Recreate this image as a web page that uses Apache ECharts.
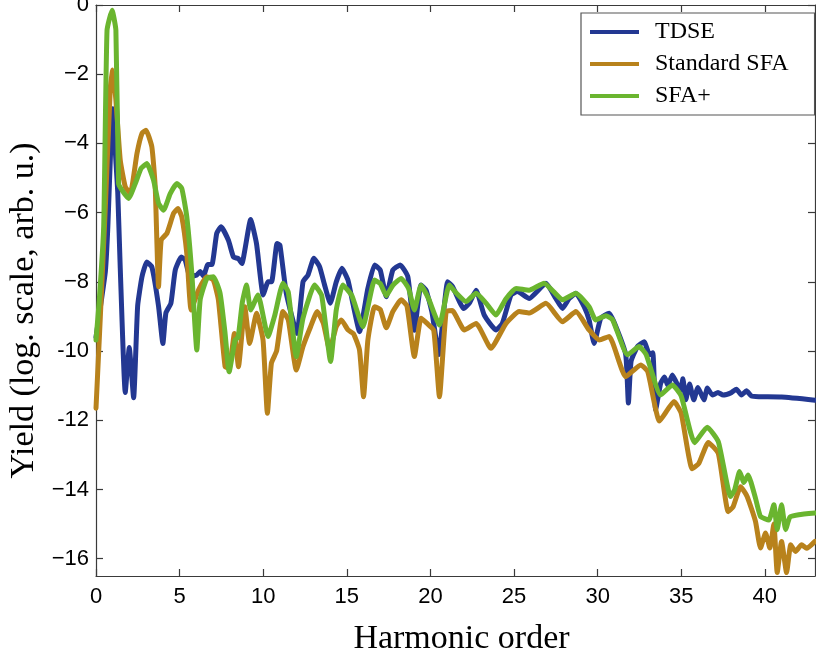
<!DOCTYPE html>
<html>
<head>
<meta charset="utf-8">
<script src="https://cdn.jsdelivr.net/npm/echarts@6/dist/echarts.min.js"></script>
<style>
  html, body { margin: 0; padding: 0; background: #fff; }
  #main { width: 816px; height: 658px; }
</style>
</head>
<body>
<div id="main"></div>
<script>
// harmonic order / log yield
const seriesNames = ['TDSE', 'Standard SFA', 'SFA+']
const xTicks = [0, 5, 10, 15, 20, 25, 30, 35, 40]
const yTicks = [-16, -14, -12, -10, -8, -6, -4, -2, 0]

const tdse = [
  [0, -9.6], [0.3, -8.6], [0.56, -7.7], [0.7, -6.5], [1.0, -3.0], [1.2, -4.6], [1.3, -5.4], [1.45, -7.6],
  [1.75, -11.2], [1.99, -9.9], [2.25, -11.35], [2.49, -8.7], [2.75, -7.85], [3.04, -7.43], [3.34, -7.57],
  [3.74, -8.7], [4.0, -9.78], [4.18, -8.9], [4.48, -8.62], [4.74, -7.66], [5.1, -7.28], [5.33, -7.37],
  [5.63, -7.85], [6.03, -7.8], [6.23, -7.7], [6.43, -7.83], [6.69, -7.5], [6.93, -7.5], [7.22, -6.6],
  [7.48, -6.41], [7.92, -6.8], [8.22, -7.28], [8.52, -7.33], [8.72, -7.47], [9.25, -6.2], [9.6, -6.9],
  [10.0, -8.38], [10.29, -8.0], [10.5, -8.0], [10.83, -6.89], [11.0, -6.94], [11.38, -8.33], [12.02, -9.49],
  [12.38, -8.0], [12.68, -7.8], [13.03, -7.32], [13.37, -7.56], [13.67, -8.09], [14.01, -8.62], [14.37, -8.0],
  [14.71, -7.61], [15.07, -7.95], [15.36, -8.62], [15.76, -9.44], [16.26, -8.19], [16.66, -7.51], [17.0, -7.66],
  [17.36, -8.43], [17.75, -7.66], [18.19, -7.51], [18.65, -7.85], [19.04, -9.4], [19.44, -8.09], [19.74, -8.24],
  [20.1, -8.9], [20.5, -10.1], [21.03, -8.0], [21.33, -8.14], [21.99, -8.77], [22.35, -8.6], [22.73, -8.24],
  [23.22, -8.96], [23.92, -9.39], [24.3, -9.2], [24.82, -8.38], [25.2, -8.28], [25.91, -8.48], [26.91, -8.04],
  [27.5, -8.48], [27.9, -8.77], [28.3, -8.48], [28.7, -8.33], [29.2, -8.72], [29.49, -9.1], [29.79, -9.78],
  [30.19, -9.05], [30.69, -8.91], [31.1, -9.3], [31.68, -10.1], [31.84, -11.5], [32.0, -10.3], [32.38, -9.87],
  [32.78, -9.73], [33.1, -10.1], [33.3, -10.05], [33.47, -11.7], [33.77, -10.93], [34.0, -10.75], [34.2, -11.0],
  [34.47, -10.69], [34.7, -10.9], [34.97, -11.12], [35.1, -10.8], [35.27, -11.41], [35.5, -10.95], [35.75, -11.41],
  [36.0, -11.05], [36.36, -11.41], [36.56, -11.07], [36.86, -11.27], [37.2, -11.2], [37.5, -11.27], [38.0, -11.2],
  [38.3, -11.1], [38.6, -11.27], [38.9, -11.15], [39.2, -11.3], [39.64, -11.32], [41.0, -11.33], [43, -11.42]
]

const standardSfa = [
  [0, -11.65], [0.26, -9.0], [0.56, -5.83], [0.86, -2.37], [1.0, -1.88], [1.19, -2.75], [1.45, -4.48],
  [1.75, -5.25], [2.05, -5.45], [2.45, -4.29], [2.75, -3.71], [2.99, -3.62], [3.34, -4.1], [3.54, -5.25],
  [3.74, -8.14], [3.9, -6.79], [4.24, -6.6], [4.64, -6.02], [4.9, -5.88], [5.13, -6.12], [5.43, -7.18],
  [5.69, -8.81], [6.13, -8.24], [6.63, -7.85], [7.02, -7.95], [7.32, -8.52], [7.72, -10.45], [7.95, -10.5],
  [8.28, -9.49], [8.52, -10.45], [8.9, -8.72], [9.19, -9.78], [9.6, -8.91], [9.99, -9.68], [10.25, -11.8],
  [10.49, -10.35], [10.8, -10.0], [11.18, -8.86], [11.5, -9.1], [11.98, -10.55], [12.38, -9.87], [12.84, -9.29],
  [13.23, -8.86], [13.6, -9.2], [13.97, -9.97], [14.37, -9.29], [14.67, -9.1], [15.07, -9.39], [15.4, -9.5],
  [15.76, -9.97], [16.0, -11.32], [16.26, -9.68], [16.66, -8.72], [17.0, -8.8], [17.36, -9.33], [17.75, -8.86],
  [18.25, -8.52], [18.6, -8.7], [19.04, -10.16], [19.44, -9.05], [19.8, -9.2], [20.2, -9.4], [20.54, -11.32],
  [20.94, -8.86], [21.3, -8.83], [22.03, -9.39], [22.73, -9.2], [23.62, -9.92], [24.52, -9.2], [25.31, -8.86],
  [25.91, -8.9], [26.91, -8.62], [27.9, -9.15], [28.7, -8.86], [29.49, -9.39], [30.1, -9.68], [30.69, -9.58],
  [31.68, -10.74], [32.58, -10.4], [33.0, -10.6], [33.7, -12.02], [34.57, -11.46], [35.0, -11.8], [35.65, -13.4],
  [36.05, -13.25], [36.62, -12.64], [37.22, -12.96], [37.81, -14.64], [38.1, -14.5], [38.55, -13.92],
  [38.94, -14.2], [39.44, -14.92], [39.74, -15.69], [40.04, -15.26], [40.3, -15.69], [40.54, -15.0],
  [40.74, -16.4], [41.0, -15.5], [41.3, -16.4], [41.55, -15.6], [41.83, -15.79], [42.2, -15.6], [42.5, -15.7],
  [43, -15.5]
]

const sfaPlus = [
  [0, -9.68], [0.2, -8.5], [0.46, -6.4], [0.66, -0.73], [0.96, -0.15], [1.19, -0.73], [1.35, -5.16],
  [1.55, -5.35], [1.95, -5.59], [2.35, -5.16], [2.7, -4.72], [3.04, -4.58], [3.44, -5.06], [3.74, -5.73],
  [4.04, -5.93], [4.44, -5.45], [4.84, -5.16], [5.13, -5.3], [5.43, -6.12], [5.73, -7.75], [6.03, -9.97],
  [6.23, -8.52], [6.63, -7.9], [7.02, -7.85], [7.42, -8.33], [7.72, -9.49], [7.96, -10.6], [8.32, -9.68],
  [8.5, -9.6], [8.75, -8.6], [9.0, -8.09], [9.25, -8.81], [9.69, -8.38], [10.29, -9.58], [10.7, -8.95],
  [11.18, -8.04], [11.5, -8.3], [11.98, -10.16], [12.38, -9.05], [13.07, -8.09], [13.5, -8.4], [14.03, -10.3],
  [14.37, -8.81], [14.76, -8.09], [15.3, -8.4], [15.96, -9.3], [16.66, -7.95], [17.0, -8.05], [17.36, -8.4],
  [17.75, -8.1], [18.25, -7.9], [18.7, -8.2], [19.04, -8.81], [19.44, -8.1], [19.9, -8.5], [20.54, -9.25],
  [21.13, -8.09], [21.5, -8.3], [22.13, -8.57], [22.73, -8.33], [23.3, -8.6], [23.92, -8.96], [24.5, -8.5],
  [25.12, -8.19], [25.91, -8.24], [26.8, -8.04], [27.4, -8.3], [27.9, -8.52], [28.7, -8.33], [29.49, -8.72],
  [29.89, -9.1], [30.49, -8.98], [30.9, -9.1], [31.79, -10.11], [32.48, -9.87], [32.9, -10.1], [33.77, -11.27],
  [34.47, -10.98], [35.0, -11.3], [35.8, -12.65], [36.55, -12.2], [37.22, -12.62], [37.95, -14.2], [38.2, -14.0],
  [38.49, -13.48], [38.75, -13.8], [39.0, -13.58], [39.44, -14.25], [39.74, -14.78], [40.24, -14.88],
  [40.54, -14.44], [40.74, -15.16], [41.0, -14.44], [41.24, -15.16], [41.5, -14.8], [42.03, -14.73], [43, -14.68]
]

const colors = ['#233892', '#b8821c', '#6ab52f']
const frameColor = '#3a3a3a'

function yLabel(v) {
  if (v === 0) return '0'
  // the figure prints -10 and -12 with a short hyphen
  const sign = (v === -10 || v === -12) ? '-' : '\u2212'
  return sign + Math.abs(v)
}

const chart = echarts.init(document.getElementById('main'), null, { renderer: 'canvas' })

const tickFont = { fontFamily: 'Liberation Sans', fontSize: 22, color: '#000' }
const nameFont = { fontFamily: 'Liberation Serif', fontSize: 34, color: '#000' }
const lineStyle = { color: frameColor, width: 1.2 }
// onZero off, or the frame lines jump to y=0 (top edge) / x=0
const axisLine = { show: true, onZero: false, lineStyle }
// ticks point into the plot, as in the matlab figure
const tick = { show: true, inside: true, length: 7, lineStyle }

const xBase = { type: 'value', min: 0, max: 43, axisLine, splitLine: { show: false } }
const yBase = { type: 'value', min: -16.5, max: 0, axisLine, splitLine: { show: false } }

const option = {
  animation: false,
  backgroundColor: '#fff',
  grid: {
    left: 96,
    right: 1,
    top: 5,
    bottom: 82,
    containLabel: false,
    outerBoundsMode: 'none',
  },
  legend: {
    orient: 'vertical',
    left: 581,
    top: 13,
    backgroundColor: '#fff',
    borderColor: '#555',
    borderWidth: 1.2,
    borderRadius: 0,
    padding: [7, 26, 7, 9],
    itemWidth: 49,
    itemHeight: 4,
    itemGap: 8,
    icon: 'rect',
    data: seriesNames,
    formatter: '{t|{name}}',
    textStyle: {
      rich: {
        t: { fontFamily: 'Liberation Serif', fontSize: 24, lineHeight: 24, color: '#000', padding: [0, 0, 0, 11] },
      },
    },
  },
  xAxis: [
    {
      ...xBase,
      position: 'bottom',
      name: 'Harmonic order',
      nameLocation: 'middle',
      nameGap: 46,
      nameTextStyle: { ...nameFont, padding: [0, 0, 0, 12] },
      axisTick: { ...tick, customValues: xTicks },
      axisLabel: { ...tickFont, margin: 10, customValues: xTicks },
    },
    {
      ...xBase,
      position: 'top',
      axisTick: { ...tick, customValues: xTicks },
      axisLabel: { show: false },
    },
  ],
  yAxis: [
    {
      ...yBase,
      position: 'left',
      name: 'Yield (log. scale, arb. u.)',
      nameLocation: 'middle',
      nameGap: 52,
      nameTextStyle: { ...nameFont, padding: [0, 40, 0, 0] },
      axisTick: { ...tick, customValues: yTicks },
      axisLabel: { ...tickFont, margin: 7, customValues: yTicks, formatter: yLabel },
    },
    {
      ...yBase,
      position: 'right',
      axisTick: { ...tick, customValues: yTicks },
      axisLabel: { show: false },
    },
  ],
  series: [tdse, standardSfa, sfaPlus].map((data, i) => ({
    name: seriesNames[i],
    type: 'line',
    data,
    showSymbol: false,
    symbol: 'none',
    smooth: 0.15,
    color: colors[i],
    lineStyle: { color: colors[i], width: 5, join: 'round', cap: 'round' },
    itemStyle: { color: colors[i] },
    z: 2 + i,
  })),
}

chart.setOption(option)
</script>
</body>
</html>
